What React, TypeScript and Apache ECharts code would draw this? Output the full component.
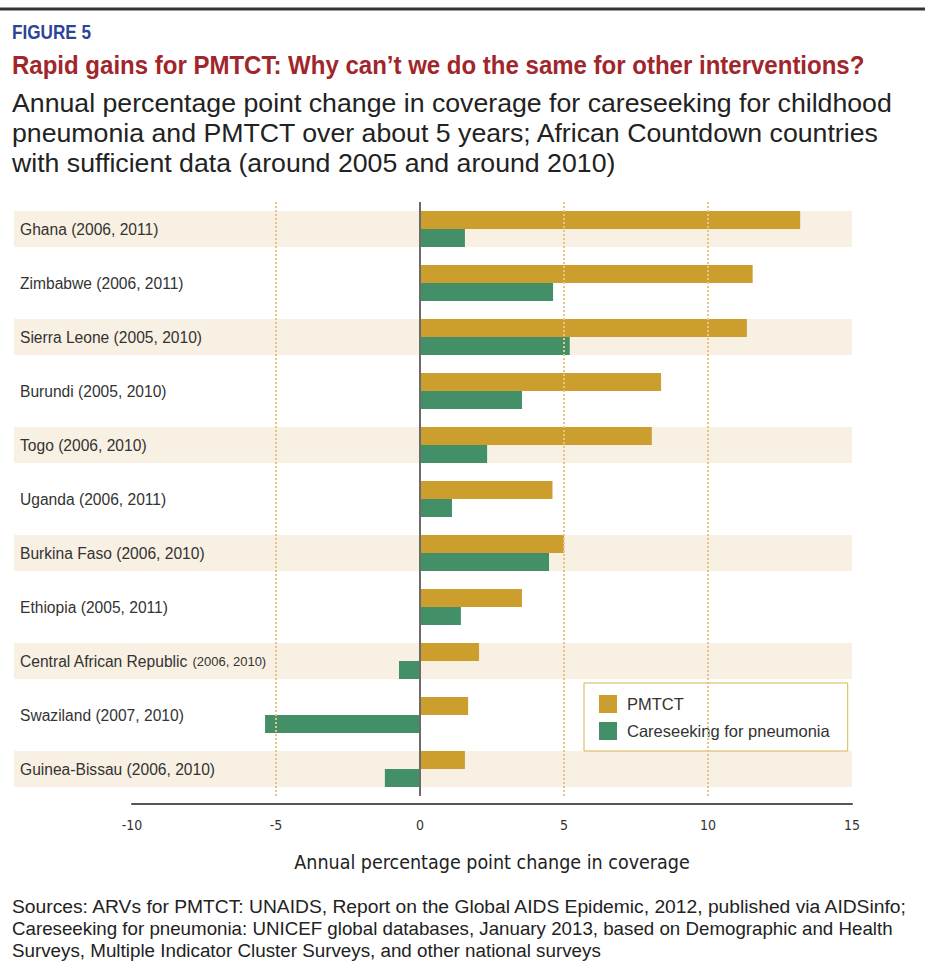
import React, { useEffect, useRef } from "react";
import * as echarts from "echarts";

const categories = [
  "Ghana (2006, 2011)",
  "Zimbabwe (2006, 2011)",
  "Sierra Leone (2005, 2010)",
  "Burundi (2005, 2010)",
  "Togo (2006, 2010)",
  "Uganda (2006, 2011)",
  "Burkina Faso (2006, 2010)",
  "Ethiopia (2005, 2011)",
  "Central African Republic (2006, 2010)",
  "Swaziland (2007, 2010)",
  "Guinea-Bissau (2006, 2010)",
];
const pmtct = [13.2, 11.55, 11.35, 8.37, 8.05, 4.6, 5.0, 3.54, 2.05, 1.67, 1.56];
const careseeking = [1.56, 4.62, 5.2, 3.54, 2.33, 1.11, 4.48, 1.42, -0.73, -5.38, -1.22];
const shadedRows = [0, 2, 4, 6, 8, 10];
const xTicks = { min: -10, max: 15, interval: 5 };
const gridLines = [-5, 5, 10];

const figureLabel = "FIGURE 5";
const titleText = "Rapid gains for PMTCT: Why can\u2019t we do the same for other interventions?";
const subtitleText =
  "Annual percentage point change in coverage for careseeking for childhood\npneumonia and PMTCT over about 5 years; African Countdown countries\nwith sufficient data (around 2005 and around 2010)";
const sourceLines = [
  "Sources: ARVs for PMTCT: UNAIDS, Report on the Global AIDS Epidemic, 2012, published via AIDSinfo;",
  "Careseeking for pneumonia: UNICEF global databases, January 2013, based on Demographic and Health",
  "Surveys, Multiple Indicator Cluster Surveys, and other national surveys",
];
const sourceWidths = [898, 881, 589];

const SANS = '"Liberation Sans", Arial, sans-serif';
const COND = '"DejaVu Sans Condensed", "Liberation Sans", sans-serif';

function measure(text: string, font: string): number {
  const c = document.createElement("canvas");
  const ctx = c.getContext("2d");
  if (!ctx) return text.length * 10;
  ctx.font = font;
  return ctx.measureText(text).width;
}

export default function App() {
  const ref = useRef<HTMLDivElement>(null);
  useEffect(() => {
    if (!ref.current) return;
    const chart = echarts.init(ref.current, undefined, { renderer: "svg" });

    const figFont = `bold 21px ${SANS}`;
    const titleFont = `bold 26px ${SANS}`;
    const srcFont = `18px ${SANS}`;
    const figScale = 79 / measure(figureLabel, figFont);
    const titleScale = 853 / measure(titleText, titleFont);

    const option: any = {
      animation: false,
      backgroundColor: "#ffffff",
      title: [
        {
          text: subtitleText,
          left: 12,
          top: 88,
          padding: 0,
          textStyle: { fontSize: 26.7, fontWeight: "normal", color: "#222", fontFamily: SANS, lineHeight: 30 },
        },
      ],
      graphic: [
        {
          type: "line",
          shape: { x1: 0, y1: 9, x2: 925, y2: 9 },
          style: { stroke: "#333", lineWidth: 3 },
          silent: true,
        },
        {
          type: "text",
          x: 12,
          y: 21,
          scaleX: figScale,
          silent: true,
          style: { text: figureLabel, font: figFont, fill: "#2d4596", verticalAlign: "top", align: "left" },
        },
        {
          type: "text",
          x: 12,
          y: 52,
          scaleX: titleScale,
          silent: true,
          style: { text: titleText, font: titleFont, fill: "#a1262b", verticalAlign: "top", align: "left" },
        },
        ...sourceLines.map((line, i) => ({
          type: "text",
          x: 12,
          y: 898 + i * 22,
          scaleX: sourceWidths[i] / measure(line, srcFont),
          silent: true,
          style: { text: line, font: srcFont, fill: "#222", verticalAlign: "top", align: "left" },
        })),
      ],
      legend: {
        data: ["PMTCT", "Careseeking for pneumonia"],
        orient: "vertical",
        left: 584,
        top: 683,
        itemWidth: 18,
        itemHeight: 18,
        itemGap: 9,
        icon: "rect",
        padding: [12, 18, 11, 15],
        borderColor: "#d9b352",
        borderWidth: 1,
        backgroundColor: "#ffffff",
        textStyle: { fontSize: 16.5, color: "#333", fontFamily: SANS, padding: [0, 0, 0, 5] },
      },
      grid: { left: 132, right: 73, top: 202, height: 594, containLabel: false },
      xAxis: {
        type: "value",
        min: xTicks.min,
        max: xTicks.max,
        interval: xTicks.interval,
        offset: 8,
        splitLine: { show: false },
        axisTick: { show: false },
        axisLine: { show: true, lineStyle: { color: "#555", width: 2 } },
        axisLabel: { fontSize: 14, color: "#333", margin: 14, fontFamily: COND },
        name: "Annual percentage point change in coverage",
        nameLocation: "middle",
        nameGap: 48,
        nameTextStyle: { fontSize: 19.5, color: "#222", fontFamily: COND },
      },
      yAxis: {
        type: "category",
        data: categories,
        inverse: true,
        axisLine: { show: false },
        axisTick: { show: false },
        splitLine: { show: false },
        axisLabel: {
          align: "left",
          margin: 112,
          fontSize: 15.6,
          color: "#333",
          fontFamily: SANS,
          formatter: (v: string) => {
            if (v.startsWith("Central African Republic")) {
              return "{a|Central African Republic} {b|(2006, 2010)}";
            }
            return v;
          },
          rich: {
            a: { fontSize: 15.6, color: "#333", fontFamily: SANS },
            b: { fontSize: 13, color: "#333", fontFamily: SANS },
          },
        },
      },
      series: [
        {
          type: "custom",
          name: "bands",
          silent: true,
          z: 0,
          data: shadedRows.map((r) => [0, r]),
          renderItem: (params: any, api: any) => {
            const idx = api.value(1);
            const c = api.coord([0, idx]);
            const h = (api.size([0, 1])[1] * 2) / 3;
            const cs = params.coordSys;
            return {
              type: "rect",
              shape: { x: cs.x - 118, y: c[1] - h / 2, width: cs.width + 118, height: h },
              style: { fill: "#f8f0e2" },
            };
          },
        },
        {
          type: "bar",
          name: "PMTCT",
          data: pmtct,
          barWidth: 18,
          barGap: "0%",
          itemStyle: { color: "#cb9e2d" },
          z: 2,
        },
        {
          type: "bar",
          name: "Careseeking for pneumonia",
          data: careseeking,
          barWidth: 18,
          barGap: "0%",
          itemStyle: { color: "#438f68" },
          z: 2,
          markLine: {
            silent: true,
            symbol: "none",
            label: { show: false },
            z: 5,
            data: [
              ...gridLines.map((g) => ({
                xAxis: g,
                lineStyle: { type: "dotted", color: "#e8c57e", width: 2 },
              })),
              { xAxis: 0, lineStyle: { type: "solid", color: "#6b6b6b", width: 2 } },
            ],
          },
        },
      ],
    };
    chart.setOption(option);
    return () => chart.dispose();
  }, []);
  return (
    <div
      ref={ref}
      style={{ position: "fixed", left: 0, top: 0, width: 925, height: 977, background: "#fff" }}
    />
  );
}
